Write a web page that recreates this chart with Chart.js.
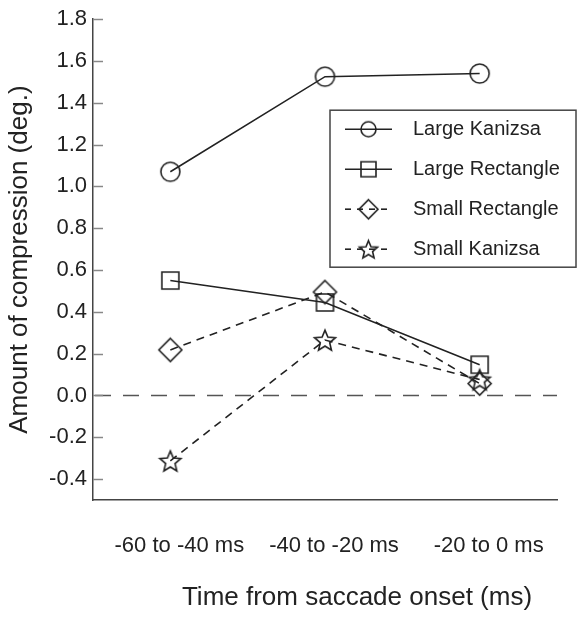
<!DOCTYPE html>
<html>
<head>
<meta charset="utf-8">
<script src="https://cdn.jsdelivr.net/npm/chart.js@4/dist/chart.umd.min.js"></script>
<style>
  html, body { margin: 0; padding: 0; background: #fff; }
  #wrap { width: 581px; height: 618px; }
</style>
</head>
<body>
<div id="wrap"><canvas id="chart" width="581" height="618"></canvas></div>
<script>
const CATEGORIES = ['-60 to -40 ms', '-40 to -20 ms', '-20 to 0 ms'];
const LARGE_KANIZSA = [1.07, 1.525, 1.54];
const LARGE_RECTANGLE = [0.55, 0.445, 0.147];
const SMALL_RECTANGLE = [0.218, 0.495, 0.057];
const SMALL_KANIZSA = [-0.313, 0.265, 0.076];
const Y_TICKS = [-0.4, -0.2, 0.0, 0.2, 0.4, 0.6, 0.8, 1.0, 1.2, 1.4, 1.6, 1.8];

const FONT = "'Liberation Sans', Arial, sans-serif";
const INK = '#222';

// hollow marker drawn onto a small canvas, used as pointStyle
function makeMarker(shape, r) {
  const size = Math.ceil(r * 2 + 4);
  const c = document.createElement('canvas');
  c.width = size; c.height = size;
  const ctx = c.getContext('2d');
  const cx = size / 2, cy = size / 2;
  ctx.strokeStyle = INK;
  ctx.lineWidth = 1.6;
  ctx.beginPath();
  if (shape === 'circle') {
    ctx.arc(cx, cy, r, 0, Math.PI * 2);
  } else if (shape === 'square') {
    ctx.rect(cx - r, cy - r, r * 2, r * 2);
  } else if (shape === 'diamond') {
    ctx.moveTo(cx, cy - r); ctx.lineTo(cx + r, cy); ctx.lineTo(cx, cy + r); ctx.lineTo(cx - r, cy); ctx.closePath();
  } else if (shape === 'star') {
    const inner = r * 0.45;
    for (let i = 0; i < 10; i++) {
      const rr = i % 2 === 0 ? r : inner;
      const a = -Math.PI / 2 + i * Math.PI / 5;
      const px = cx + rr * Math.cos(a), py = cy + rr * Math.sin(a) + r * 0.1;
      if (i === 0) ctx.moveTo(px, py); else ctx.lineTo(px, py);
    }
    ctx.closePath();
  }
  ctx.stroke();
  return c;
}

const markers = {
  lk: makeMarker('circle', 9.5), lr: makeMarker('square', 8.5),
  sr: makeMarker('diamond', 11.5), sk: makeMarker('star', 11)
};
const legendMarkers = {
  lk: makeMarker('circle', 7.5), lr: makeMarker('square', 7.5),
  sr: makeMarker('diamond', 9.5), sk: makeMarker('star', 9.5)
};

function series(label, data, key, dashed) {
  return {
    label, data,
    borderColor: INK,
    borderWidth: 1.6,
    borderDash: dashed ? [8, 6] : [],
    pointStyle: markers[key],
    legendStyle: legendMarkers[key],
    pointRadius: 10,
    pointHoverRadius: 10,
    tension: 0,
    fill: false
  };
}

const innerTicks = {
  id: 'innerTicks',
  afterDraw(chart) {
    const { ctx, chartArea, scales } = chart;
    const y = scales.y;
    ctx.save();
    ctx.strokeStyle = '#888';
    ctx.lineWidth = 1.5;
    Y_TICKS.forEach(v => {
      const py = Math.round(y.getPixelForValue(v)) + 0.5;
      ctx.beginPath();
      ctx.moveTo(chartArea.left, py);
      ctx.lineTo(chartArea.left + 10, py);
      ctx.stroke();
    });
    ctx.restore();
  }
};

const zeroLine = {
  id: 'zeroLine',
  beforeDatasetsDraw(chart) {
    const { ctx, chartArea, scales } = chart;
    const py = scales.y.getPixelForValue(0);
    ctx.save();
    ctx.strokeStyle = '#555';
    ctx.lineWidth = 1.5;
    ctx.setLineDash([16, 12]);
    ctx.beginPath();
    ctx.moveTo(chartArea.left + 2, py);
    ctx.lineTo(chartArea.right, py);
    ctx.stroke();
    ctx.restore();
  }
};

const boxLegend = {
  id: 'boxLegend',
  afterDraw(chart) {
    const { ctx, chartArea } = chart;
    const left = chartArea.left + 237, top = chartArea.top + 91;
    ctx.save();
    ctx.strokeStyle = '#444';
    ctx.lineWidth = 1.5;
    ctx.strokeRect(left, top, 246, 157);
    chart.data.datasets.forEach((ds, i) => {
      const cy = top + 19 + i * 40;
      const sx = left + 15, ex = left + 62, mx = (sx + ex) / 2;
      ctx.strokeStyle = INK;
      ctx.lineWidth = 1.6;
      ctx.setLineDash(ds.borderDash.length ? [6, 6] : []);
      ctx.beginPath();
      ctx.moveTo(sx, cy);
      ctx.lineTo(ex, cy);
      ctx.stroke();
      ctx.setLineDash([]);
      const m = ds.legendStyle;
      ctx.drawImage(m, mx - m.width / 2, cy - m.height / 2);
      ctx.fillStyle = INK;
      ctx.font = '20px ' + FONT;
      ctx.textBaseline = 'middle';
      ctx.fillText(ds.label, left + 83, cy);
    });
    ctx.restore();
  }
};

const xTitle = {
  id: 'xTitle',
  afterDraw(chart) {
    const { ctx, chartArea } = chart;
    ctx.save();
    ctx.fillStyle = INK;
    ctx.font = '26px ' + FONT;
    ctx.textAlign = 'center';
    ctx.textBaseline = 'middle';
    ctx.fillText('Time from saccade onset (ms)', chartArea.left + 264, chartArea.bottom + 98);
    ctx.restore();
  }
};

new Chart(document.getElementById('chart'), {
  type: 'line',
  data: {
    labels: CATEGORIES,
    datasets: [
      series('Large Kanizsa', LARGE_KANIZSA, 'lk', false),
      series('Large Rectangle', LARGE_RECTANGLE, 'lr', false),
      series('Small Rectangle', SMALL_RECTANGLE, 'sr', true),
      series('Small Kanizsa', SMALL_KANIZSA, 'sk', true)
    ]
  },
  options: {
    responsive: false,
    animation: false,
    devicePixelRatio: 1,
    layout: { padding: { top: 15, right: 24, left: 0, bottom: 0 } },
    plugins: {
      legend: { display: false },
      tooltip: { enabled: false }
    },
    scales: {
      x: {
        type: 'category',
        offset: true,
        grid: { display: false, drawTicks: false },
        border: { display: true, color: '#444', width: 1.5 },
        ticks: {
          color: INK,
          font: { family: FONT, size: 22 },
          padding: 33,
          labelOffset: 9,
          maxRotation: 0
        },
        afterFit(scale) { scale.height = 118; }
      },
      y: {
        min: -0.5,
        max: 1.8,
        grid: { display: false, drawTicks: false },
        border: { display: true, color: '#444', width: 1.5 },
        afterBuildTicks(scale) { scale.ticks = Y_TICKS.map(v => ({ value: v })); },
        ticks: {
          color: INK,
          font: { family: FONT, size: 22 },
          padding: 6,
          callback: v => Number(v).toFixed(1)
        },
        title: {
          display: true,
          text: 'Amount of compression (deg.)',
          color: INK,
          font: { family: FONT, size: 26 },
          padding: { top: 4, bottom: 0 }
        },
        afterFit(scale) { scale.width = 93; }
      }
    }
  },
  plugins: [zeroLine, innerTicks, boxLegend, xTitle]
});
</script>
</body>
</html>
